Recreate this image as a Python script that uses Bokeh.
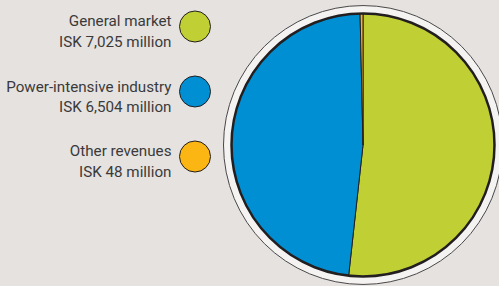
import numpy as np
from bokeh.plotting import figure
from bokeh.models import Range1d, ColumnDataSource
from bokeh.core.properties import value
from bokeh.embed import file_html
from bokeh.resources import INLINE

categories = ["General market", "Power-intensive industry", "Other revenues"]
amounts = [7025, 6504, 48]
amount_labels = ["ISK 7,025 million", "ISK 6,504 million", "ISK 48 million"]
colors = ["#bfcf34", "#008fd3", "#fbb614"]

W, H = 499, 286
BG = "#e5e2e0"
INK = "#231f20"
TXT = "#3b3a3a"

p = figure(width=W, height=H, output_backend="svg", toolbar_location=None,
           x_range=Range1d(0, W), y_range=Range1d(0, H), min_border=0)
p.axis.visible = False
p.grid.visible = False
p.outline_line_color = None
p.background_fill_color = BG
p.border_fill_color = BG

def Y(v):
    return H - v

# pie geometry (screen px)
cx, cy = 362.5, Y(144.5)
r_in, r_out = 131.5, 139.5

# outer ring
p.circle(x=[cx], y=[cy], radius=r_out, fill_color="#f4f3f2", line_color="#4a4748", line_width=1)

vals = np.array(amounts, dtype=float)
frac = vals / vals.sum()
ends = np.pi / 2 - 2 * np.pi * np.cumsum(frac)
starts = np.concatenate([[np.pi / 2], ends[:-1]])
src = ColumnDataSource(dict(start=starts, end=ends, color=colors))
p.wedge(x=cx, y=cy, radius=r_in, start_angle="start", end_angle="end", direction="clock",
        fill_color="color", line_color=INK, line_width=1, source=src)
p.circle(x=[cx], y=[cy], radius=r_in, fill_color=None, line_color=INK, line_width=2.5)

# legend
leg_cy = [26, 91, 156]
p.circle(x=[194.5] * 3, y=[Y(v) for v in leg_cy], radius=15.5, fill_color=colors,
         line_color=INK, line_width=1)
base1 = [20.7, 86.0, 150.7]
base2 = [41.7, 106.7, 171.7]
p.text(x=[171] * 3, y=[Y(v) for v in base1], text=categories, text_align="right",
       text_baseline="alphabetic", text_font=value("Roboto"), text_font_size="15.2px",
       text_color=TXT)
p.text(x=[171] * 3, y=[Y(v) for v in base2], text=amount_labels, text_align="right",
       text_baseline="alphabetic", text_font=value("Roboto"), text_font_size="15.2px",
       text_color=TXT)

html = file_html(p, INLINE)
html = html.replace("<head>", "<head><style>html,body{margin:0;padding:0;background:%s;overflow:hidden}</style>" % BG, 1)
open("out.html", "w").write(html)
